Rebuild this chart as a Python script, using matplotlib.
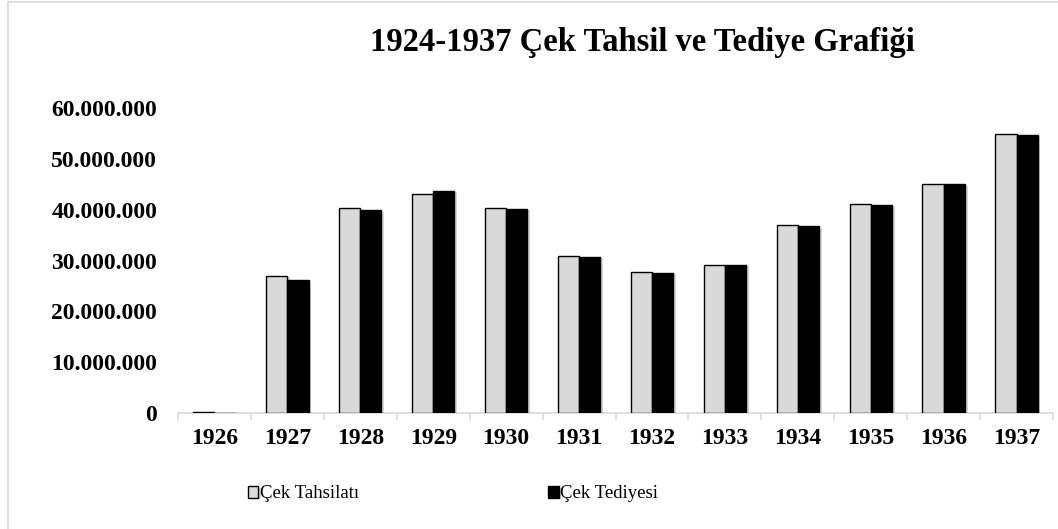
import matplotlib.pyplot as plt
import matplotlib.patheffects as pe
import numpy as np
from matplotlib.patches import Rectangle
from matplotlib.ticker import FuncFormatter

years = ["1926", "1927", "1928", "1929", "1930", "1931",
         "1932", "1933", "1934", "1935", "1936", "1937"]
tahsilat = [0.2, 27.0, 40.3, 43.0, 40.3, 30.8, 27.8, 29.2, 36.9, 41.1, 45.1, 54.9]
tediye = [0.05, 26.1, 39.9, 43.7, 40.2, 30.7, 27.6, 29.1, 36.7, 41.0, 45.0, 54.6]
tahsilat = [v * 1e6 for v in tahsilat]
tediye = [v * 1e6 for v in tediye]

plt.rcParams["font.family"] = ["Liberation Serif", "DejaVu Serif"]

fig = plt.figure(figsize=(10.58, 5.29), dpi=100)
fig.patches.append(Rectangle((8 / 1058, -0.1), 1.2, 1.1 - 2 / 529, transform=fig.transFigure,
                             fill=False, edgecolor="#d9d9d9", linewidth=1.2))
ax = fig.add_axes([178 / 1058, 1 - 413 / 529, 875 / 1058, (413 - 108) / 529])

x = np.arange(len(years))
w = 0.29
shadow = [pe.SimplePatchShadow(offset=(2, -1), shadow_rgbFace="#888888", alpha=0.35), pe.Normal()]
b1 = ax.bar(x - w / 2, tahsilat, w, color="#d9d9d9", edgecolor="black", linewidth=1.0,
            label="Çek Tahsilatı", zorder=3)
b2 = ax.bar(x + w / 2, tediye, w, color="black", edgecolor="black", linewidth=1.0,
            label="Çek Tediyesi", zorder=3)
for b in list(b1) + list(b2):
    b.set_path_effects(shadow)

ax.set_xlim(-0.5, len(years) - 0.5)
ax.set_ylim(0, 60e6)
ax.set_yticks(np.arange(0, 60e6 + 1, 10e6))
ax.yaxis.set_major_formatter(FuncFormatter(lambda v, p: f"{int(v):,}".replace(",", ".")))
ax.set_xticks(x)
ax.set_xticklabels(years)
ax.set_xticks(np.arange(-0.5, len(years), 1), minor=True)
ax.tick_params(axis="x", which="major", length=0, pad=11)
ax.tick_params(axis="x", which="minor", length=5, color="#d9d9d9", width=1.2)
ax.tick_params(axis="y", length=0, pad=15)
for lab in ax.get_xticklabels() + ax.get_yticklabels():
    lab.set_fontsize(17)
    lab.set_fontweight("bold")

for s in ["top", "right", "left"]:
    ax.spines[s].set_visible(False)
ax.spines["bottom"].set_color("#d9d9d9")
ax.spines["bottom"].set_linewidth(1.2)

fig.text(642 / 1058, 1 - 43 / 529, "1924-1937 Çek Tahsil ve Tediye Grafiği",
         ha="center", va="center", fontsize=23.5, fontweight="bold")

leg = fig.legend(handles=[b1, b2], loc="center", bbox_to_anchor=(453 / 1058, 1 - 494 / 529),
                 ncol=2, frameon=False, fontsize=13.5, columnspacing=10.1,
                 handlelength=0.55, handleheight=0.55, handletextpad=0.1)

fig.savefig("out.png", dpi=100)
